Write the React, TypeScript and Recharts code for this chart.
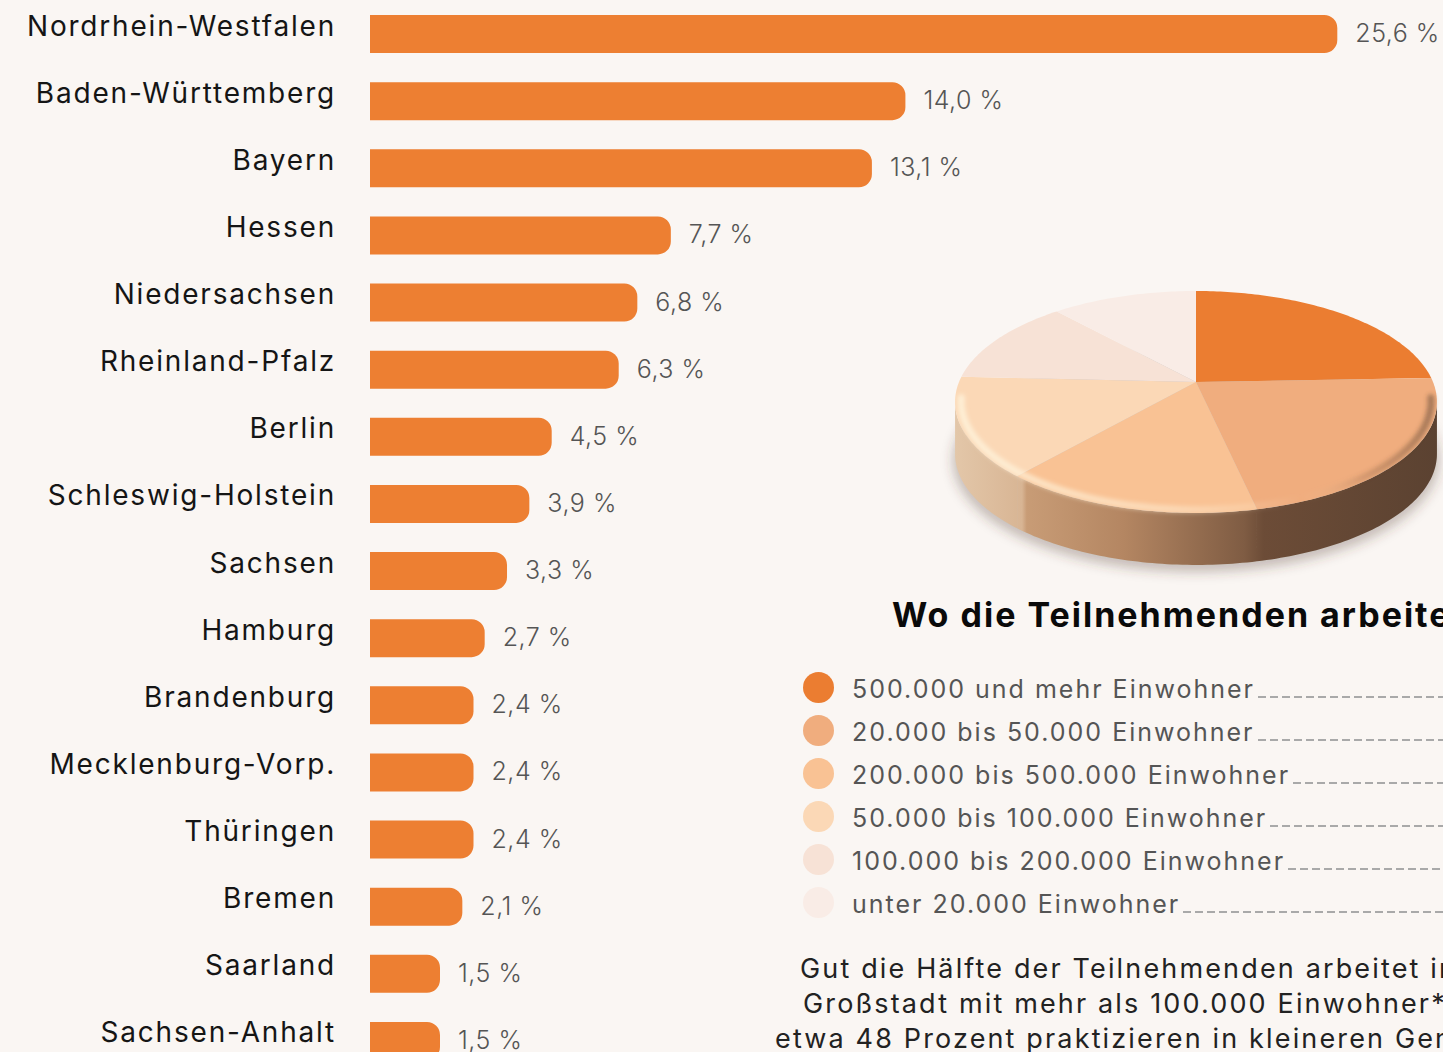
import React from 'react';
import { BarChart, Bar, XAxis, YAxis, LabelList, PieChart, Pie, Legend } from 'recharts';

// ---------- data ----------
const STATES = [
  'Nordrhein-Westfalen',
  'Baden-Württemberg',
  'Bayern',
  'Hessen',
  'Niedersachsen',
  'Rheinland-Pfalz',
  'Berlin',
  'Schleswig-Holstein',
  'Sachsen',
  'Hamburg',
  'Brandenburg',
  'Mecklenburg-Vorp.',
  'Thüringen',
  'Bremen',
  'Saarland',
  'Sachsen-Anhalt',
];
const SHARES = [25.6, 14.0, 13.1, 7.7, 6.8, 6.3, 4.5, 3.9, 3.3, 2.7, 2.4, 2.4, 2.4, 2.1, 1.5, 1.5];

const CITY_SIZES = [
  '500.000 und mehr Einwohner',
  '20.000 bis 50.000 Einwohner',
  '200.000 bis 500.000 Einwohner',
  '50.000 bis 100.000 Einwohner',
  '100.000 bis 200.000 Einwohner',
  'unter 20.000 Einwohner',
];
const CITY_SHARES = [24.4, 22.2, 14.7, 14.5, 12.6, 11.6];
const CITY_COLORS = ['#eb7d31', '#f0ad7e', '#f9c294', '#fbd8b6', '#f7e2d6', '#f9ece6'];

const TITLE = 'Wo die Teilnehmenden arbeiten';
const NOTE_LINES = [
  'Gut die Hälfte der Teilnehmenden arbeitet in einer',
  'Großstadt mit mehr als 100.000 Einwohner*innen,',
  'etwa 48 Prozent praktizieren in kleineren Gemeinden.',
];

const AXIS_MIN = -0.38;
const AXIS_MAX = 28.6;

const barData = STATES.map((state, i) => ({ state, value: SHARES[i] }));
const pieData = CITY_SIZES.map((name, i) => ({ name, value: CITY_SHARES[i], color: CITY_COLORS[i] }));

// ---------- styles ----------
const BG = '#faf6f3';
const FONT = 'Inter, "Noto Sans", sans-serif';
const BAR_COLOR = '#ed7f32';

const fmt = (v: number) => v.toFixed(1).replace('.', ',') + ' %';

const StateTick = (props: any) => {
  const { x, y, payload } = props;
  return (
    <text
      x={Number(x)}
      y={Number(y) + 2}
      textAnchor="end"
      fontFamily={FONT}
      fontSize={28}
      letterSpacing={1.8}
      fill="#151515"
    >
      {payload.value}
    </text>
  );
};

const ValueLabel = (props: any) => {
  const { x, y, width, height, index } = props;
  let value = props.value;
  if (Array.isArray(value)) value = value[1];
  if (typeof value !== 'number') value = SHARES[index];
  return (
    <text
      x={Number(x) + Number(width) + 18}
      y={Number(y) + Number(height) / 2 + 8}
      fontFamily={FONT}
      fontSize={25}
      fontWeight={300}
      letterSpacing={0.5}
      fill="#555555"
    >
      {fmt(value)}
    </text>
  );
};

// ---------- 3D pie drawing ----------
const PERSP = 0.18;
const SQUASH = 0.453;
const DEPTH = 52;
const SIL = (Math.asin(PERSP) * 180) / Math.PI; // silhouette angle

function proj(cx: number, cy: number, r: number, deg: number, dy = 0) {
  const t = (deg * Math.PI) / 180;
  const w = 1 + PERSP * Math.sin(t);
  return [cx + (r * Math.cos(t)) / w, cy - (r * SQUASH * Math.sin(t)) / w + dy];
}

function arcPts(cx: number, cy: number, r: number, from: number, to: number, dy = 0) {
  const n = Math.max(2, Math.ceil(Math.abs(from - to)));
  const pts: string[] = [];
  for (let i = 0; i <= n; i++) {
    const d = from + ((to - from) * i) / n;
    const [px, py] = proj(cx, cy, r, d, dy);
    pts.push(px.toFixed(2) + ',' + py.toFixed(2));
  }
  return pts;
}

const Slice3D = (props: any) => {
  const { cx, cy, outerRadius, index } = props;
  const r = Number(outerRadius);
  const a1 = Math.max(Number(props.startAngle), Number(props.endAngle));
  const a2 = Math.min(Number(props.startAngle), Number(props.endAngle));
  const color = (props.payload && props.payload.color) || CITY_COLORS[index];

  const topPath = 'M' + cx + ',' + cy + ' L' + arcPts(cx, cy, r, a1, a2).join(' L') + ' Z';

  const sHi = -SIL;
  const sLo = -180 + SIL;
  const hi = Math.min(a1, sHi);
  const lo = Math.max(a2, sLo);
  let sidePath: string | null = null;
  if (hi > lo) {
    const top = arcPts(cx, cy, r, hi, lo, 0);
    const bot = arcPts(cx, cy, r, lo, hi, DEPTH);
    sidePath = 'M' + top.join(' L') + ' L' + bot.join(' L') + ' Z';
  }

  const isLast = index === CITY_SIZES.length - 1;
  return (
    <g>
      {index === 0 && (
        <>
          <defs>
            <linearGradient id="pieSide" gradientUnits="userSpaceOnUse" x1={cx - r * 1.02} y1={0} x2={cx + r * 1.02} y2={0}>
              <stop offset="0" stopColor="#e3c7a9" />
              <stop offset="0.14" stopColor="#d8b594" />
              <stop offset="0.15" stopColor="#c89c76" />
              <stop offset="0.35" stopColor="#b48662" />
              <stop offset="0.6" stopColor="#7f5c43" />
              <stop offset="0.64" stopColor="#6c4c37" />
              <stop offset="1" stopColor="#5b4231" />
            </linearGradient>
            <linearGradient id="pieRim" gradientUnits="userSpaceOnUse" x1={cx - r} y1={0} x2={cx + r} y2={0}>
              <stop offset="0" stopColor="#fff6df" stopOpacity="0.75" />
              <stop offset="0.45" stopColor="#fff3dc" stopOpacity="0.45" />
              <stop offset="0.72" stopColor="#fff3dc" stopOpacity="0" />
              <stop offset="0.85" stopColor="#6b4a33" stopOpacity="0.2" />
              <stop offset="1" stopColor="#5b4231" stopOpacity="0.5" />
            </linearGradient>
            <filter id="pieShadow" x="-20%" y="-30%" width="140%" height="160%">
              <feGaussianBlur stdDeviation="6" />
            </filter>
            <filter id="rimBlur" x="-10%" y="-50%" width="120%" height="200%">
              <feGaussianBlur stdDeviation="2" />
            </filter>
          </defs>
          <path
            d={'M' + arcPts(cx, cy, r * 1.01, 0, 360, DEPTH + 6).join(' L') + ' Z'}
            fill="rgba(80,60,45,0.3)"
            filter="url(#pieShadow)"
          />
        </>
      )}
      {sidePath && <path d={sidePath} fill="url(#pieSide)" />}
      <path d={topPath} fill={color} />
      {isLast && (
        <path
          d={'M' + arcPts(cx, cy, r * 0.975, sLo - 2, sHi + 2, 0).join(' L')}
          fill="none"
          stroke="url(#pieRim)"
          strokeWidth={7}
          strokeLinecap="round"
          filter="url(#rimBlur)"
        />
      )}
    </g>
  );
};

const CityLegend = () => {
  return (
    <div style={{ display: 'flex', flexDirection: 'column' }}>
      {CITY_SIZES.map((name, i) => (
        <div key={i} style={{ display: 'flex', alignItems: 'center', height: 43 }}>
          <span
            style={{
              width: 31,
              height: 31,
              borderRadius: '50%',
              background: CITY_COLORS[i],
              flex: 'none',
              display: 'inline-block',
            }}
          />
          <div style={{ display: 'flex', alignItems: 'baseline', flex: 1, marginLeft: 18, paddingTop: 4 }}>
            <span
              style={{
                fontFamily: FONT,
                fontSize: 25,
                letterSpacing: 2,
                color: '#555555',
                whiteSpace: 'nowrap',
                lineHeight: '30px',
              }}
            >
              {name}
            </span>
            <span
              style={{
                flex: 1,
                height: 2,
                marginLeft: 3,
                display: 'inline-block',
                backgroundImage:
                  'linear-gradient(to right, #a9a9a9 0px, #a9a9a9 8px, transparent 8px, transparent 12px)',
                backgroundSize: '12px 2px',
                backgroundRepeat: 'repeat-x',
              }}
            />
          </div>
        </div>
      ))}
    </div>
  );
};

export default function App() {
  return (
    <div
      style={{
        position: 'absolute',
        left: 0,
        top: 0,
        width: 1443,
        height: 1052,
        overflow: 'hidden',
        background: BG,
      }}
    >
      <div style={{ position: 'absolute', left: 0, top: 0 }}>
        <BarChart
          width={1449}
          height={1074}
          data={barData}
          layout="vertical"
          margin={{ top: 0, right: 0, bottom: 0, left: 0 }}
        >
          <XAxis type="number" domain={[AXIS_MIN, AXIS_MAX]} hide allowDataOverflow />
          <YAxis
            type="category"
            dataKey="state"
            width={370}
            axisLine={false}
            tickLine={false}
            tickSize={0}
            tickMargin={34}
            interval={0}
            tick={(p: any) => <StateTick {...p} />}
          />
          <Bar
            dataKey={(d: any) => [AXIS_MIN, d.value]}
            fill={BAR_COLOR}
            barSize={38}
            radius={[0, 13, 13, 0]}
            isAnimationActive={false}
          >
            <LabelList dataKey="value" content={(p: any) => <ValueLabel {...p} />} />
          </Bar>
        </BarChart>
      </div>

      <div style={{ position: 'absolute', left: 760, top: 270 }}>
        <PieChart width={700} height={700} margin={{ top: 0, right: 0, bottom: 0, left: 0 }}>
          <Pie
            data={pieData}
            dataKey="value"
            nameKey="name"
            cx={436}
            cy={112}
            outerRadius={237}
            startAngle={90}
            endAngle={-270}
            fill="transparent"
            stroke="none"
            isAnimationActive={false}
            label={Slice3D}
            labelLine={false}
          />
          <Legend
            content={() => <CityLegend />}
            wrapperStyle={{ position: 'absolute', left: 43, top: 395.5, bottom: 'auto', width: 700 }}
          />
        </PieChart>
      </div>

      <svg
        width={1443}
        height={1052}
        style={{ position: 'absolute', left: 0, top: 0, pointerEvents: 'none' }}
      >
        <text x={892} y={627} fontFamily={FONT} fontSize={34} fontWeight={700} letterSpacing={2} fill="#0a0a0a">
          {TITLE}
        </text>
        {NOTE_LINES.map((line, i) => (
          <text
            key={i}
            x={[800, 803, 775][i]}
            y={978 + i * 35}
            fontFamily={FONT}
            fontSize={27}
            letterSpacing={2.15}
            fill="#222222"
          >
            {line}
          </text>
        ))}
      </svg>
    </div>
  );
}
